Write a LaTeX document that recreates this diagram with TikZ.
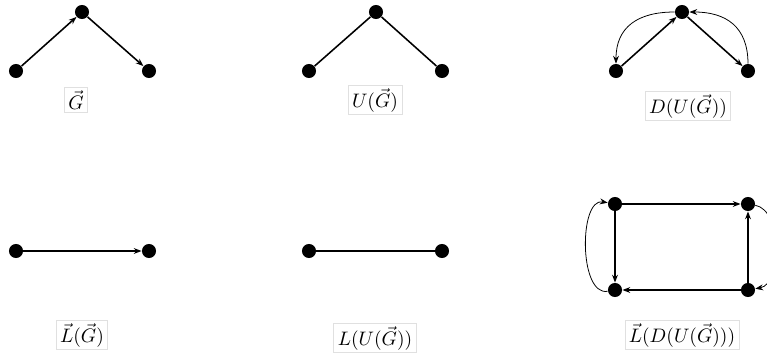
\documentclass[tikz,border=0pt]{standalone}
\usepackage{amsmath,amssymb}
\usepackage{tikz}
\usetikzlibrary{arrows.meta}

\begin{document}
\begin{tikzpicture}[x=0.018cm, y=0.018cm,
        vertex/.style={circle, fill=black, inner sep=0pt, minimum size=7.2pt},
        edge/.style={thick, black},
        curve/.style={thin, black},
        lbl/.style={draw=black!12, inner xsep=2pt, inner ysep=1.5pt},
        >={Stealth[length=4pt,width=3pt]}
      ]
        \useasboundingbox (0,0) rectangle (767,356);
        % G
        \node[vertex] (g1) at (16,285) {};
        \node[vertex] (g2) at (82,344) {};
        \node[vertex] (g3) at (149,285) {};
        \draw[edge,->] (g1) -- (g2);
        \draw[edge,->] (g2) -- (g3);
        \node[lbl] (gl) at (76,256) {$\vec{G}$};
        % U(G)
        \node[vertex] (u1) at (309,285) {};
        \node[vertex] (u2) at (376,344) {};
        \node[vertex] (u3) at (442,285) {};
        \draw[edge] (u1) -- (u2);
        \draw[edge] (u2) -- (u3);
        \node[lbl] (ul) at (375,256) {$U(\vec{G})$};
        % D(U(G))
        \node[vertex] (d1) at (616,285) {};
        \node[vertex] (d2) at (682,344) {};
        \node[vertex] (d3) at (748,285) {};
        \draw[edge,->] (d1) -- (d2);
        \draw[edge,->] (d2) -- (d3);
        \draw[curve,->] (d2) to[out=180, in=90, looseness=1.2] (d1);
        \draw[curve,->] (d3) to[out=90, in=0, looseness=1.2] (d2);
        \node[lbl] (dl) at (688,250) {$D(U(\vec{G}))$};
        % L(G)
        \node[vertex] (lg1) at (16,105) {};
        \node[vertex] (lg2) at (149,105) {};
        \draw[edge,->] (lg1) -- (lg2);
        \node[lbl] (lgl) at (82,21) {$\vec{L}(\vec{G})$};
        % L(U(G))
        \node[vertex] (lu1) at (309,105) {};
        \node[vertex] (lu2) at (442,105) {};
        \draw[edge] (lu1) -- (lu2);
        \node[lbl] (lul) at (375,18) {$L(U(\vec{G}))$};
        % L(D(U(G)))
        \node[vertex] (ld1) at (615,152) {};
        \node[vertex] (ld2) at (748,152) {};
        \node[vertex] (ld3) at (615,66) {};
        \node[vertex] (ld4) at (748,66) {};
        \draw[edge,->] (ld1) -- (ld2);
        \draw[edge,->] (ld1) -- (ld3);
        \draw[edge,->] (ld4) -- (ld3);
        \draw[edge,->] (ld4) -- (ld2);
        \draw[curve,->] (ld3) to[out=190, in=170, looseness=0.85] (ld1);
        \draw[curve,->] (ld2) to[out=-10, in=10, looseness=0.85] (ld4);
        \node[lbl] (ldl) at (682,21) {$\vec{L}(D(U(\vec{G})))$};
      \end{tikzpicture}
\end{document}
